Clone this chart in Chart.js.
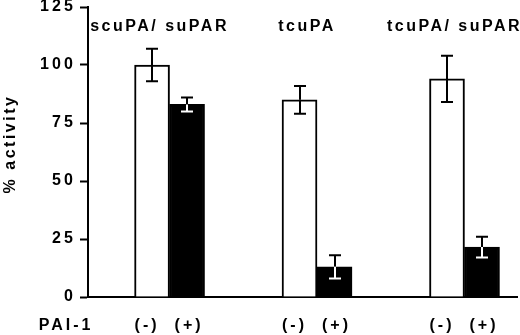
<!DOCTYPE html>
<html>
<head>
<meta charset="utf-8">
<script src="https://cdn.jsdelivr.net/npm/chart.js@4"></script>
<style>
html, body { margin: 0; padding: 0; background: #fff; }
</style>
</head>
<body>
<canvas id="myChart" width="520" height="335"></canvas>
<script>
// data
const groups = ['scuPA/ suPAR', 'tcuPA', 'tcuPA/ suPAR']
const sinPAI = [100, 85, 94]          // PAI-1 (-)
const sinPAIerr = [7, 6, 10]
const conPAI = [83, 13, 21.5]         // PAI-1 (+)
const conPAIerr = [3, 5, 4.5]
const yTicks = [0, 25, 50, 75, 100, 125]
const pairLabels = ['(-)', '(+)']
const rowLabel = 'PAI-1'
const yTitle = '% activity'

const fuente = 'Liberation Sans, Arial, sans-serif'

const extras = {
  id: 'extras',
  afterDraw(chart) {
    const ctx = chart.ctx
    const y = chart.scales.y
    const x = chart.scales.x
    const area = chart.chartArea
    ctx.save()
    ctx.lineWidth = 2
    const series = [[0, sinPAI, sinPAIerr], [1, conPAI, conPAIerr]]
    ctx.font = 'bold 16px ' + fuente
    ctx.textAlign = 'center'
    ctx.textBaseline = 'middle'
    ctx.letterSpacing = '3px'
    series.forEach(([di, vals, errs]) => {
      chart.getDatasetMeta(di).data.forEach((bar, i) => {
        const top = y.getPixelForValue(vals[i] + errs[i])
        const mid = y.getPixelForValue(vals[i])
        const bot = y.getPixelForValue(vals[i] - errs[i])
        const cx = Math.round(bar.x)
        ctx.strokeStyle = '#000'
        ctx.beginPath()
        ctx.moveTo(cx, mid); ctx.lineTo(cx, top)
        ctx.moveTo(cx - 6, top); ctx.lineTo(cx + 6, top)
        ctx.stroke()
        ctx.strokeStyle = di === 1 ? '#fff' : '#000'
        ctx.beginPath()
        ctx.moveTo(cx, mid); ctx.lineTo(cx, bot)
        ctx.moveTo(cx - 6, bot); ctx.lineTo(cx + 6, bot)
        ctx.stroke()
        // (-) / (+) under each bar
        ctx.fillStyle = '#000'
        ctx.fillText(pairLabels[di], bar.x + (di === 0 ? -5 : 2), 326)
      })
    })
    ctx.fillText(rowLabel, area.left - 22, 326)
    // group names above the pairs
    ctx.letterSpacing = '2.5px'
    groups.forEach((g, i) => {
      ctx.fillText(g, x.getPixelForValue(i + 1) - 10, area.top + 20)
    })
    // y title with spaced letters
    ctx.translate(11, (area.top + area.bottom) / 2 - 8)
    ctx.rotate(-Math.PI / 2)
    ctx.fillText(yTitle, 0, 0)
    ctx.restore()
  }
}

const data = {
  datasets: [{
    label: pairLabels[0],
    data: groups.map((g, i) => ({ x: i + 1, y: sinPAI[i] })),
    backgroundColor: '#fff',
    borderColor: '#000',
    borderWidth: 2
  }, {
    label: pairLabels[1],
    data: groups.map((g, i) => ({ x: i + 1, y: conPAI[i] })),
    backgroundColor: '#000',
    borderColor: '#000',
    borderWidth: 2
  }]
}

const config = {
  type: 'bar',
  data: data,
  plugins: [extras],
  options: {
    responsive: false,
    animation: false,
    barThickness: 35,
    layout: { padding: { top: 0, right: 3, left: 0, bottom: 0 } },
    plugins: { legend: { display: false }, tooltip: { enabled: false } },
    scales: {
      x: {
        type: 'linear',
        offset: false,
        min: 0.447,
        max: 3.356,
        grid: { display: false },
        ticks: { display: false },
        border: { display: true, color: '#000', width: 2 },
        afterFit(scale) { scale.height = 38 }
      },
      y: {
        min: yTicks[0],
        max: yTicks[yTicks.length - 1],
        ticks: {
          stepSize: yTicks[1] - yTicks[0],
          color: '#000',
          padding: 7,
          font: { family: fuente, size: 16, weight: 'bold', lineHeight: 0 },
          callback: v => String(v).split('').join('\u2009')
        },
        grid: { drawOnChartArea: false, drawTicks: true, tickLength: 8, tickWidth: 2, color: '#000' },
        border: { display: true, color: '#000', width: 2 },
        afterFit(scale) { scale.width = 88 }
      }
    }
  }
}

const myChart = new Chart(document.getElementById('myChart'), config)
</script>
</body>
</html>
